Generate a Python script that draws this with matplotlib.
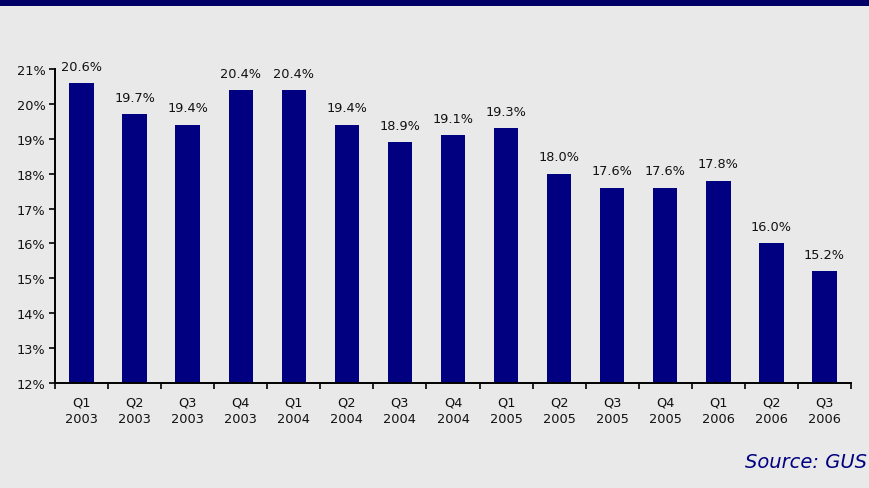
import numpy as np
import matplotlib.pyplot as plt
from matplotlib.patches import Rectangle

quarters = ["Q1", "Q2", "Q3", "Q4", "Q1", "Q2", "Q3", "Q4", "Q1", "Q2", "Q3", "Q4", "Q1", "Q2", "Q3"]
years = ["2003", "2003", "2003", "2003", "2004", "2004", "2004", "2004",
         "2005", "2005", "2005", "2005", "2006", "2006", "2006"]
values = [20.6, 19.7, 19.4, 20.4, 20.4, 19.4, 18.9, 19.1, 19.3, 18.0, 17.6, 17.6, 17.8, 16.0, 15.2]
y_ticks = [12, 13, 14, 15, 16, 17, 18, 19, 20, 21]

BG = "#e9e9e9"
NAVY = "#000080"

plt.rcParams['font.family'] = ['DejaVu Sans']

fig = plt.figure(figsize=(8.7, 4.89), dpi=100, facecolor=BG)
# bande du haut
fig.patches.append(Rectangle((0, 1 - 6.5 / 489), 1, 6.5 / 489, transform=fig.transFigure,
                             facecolor="#000066", edgecolor="none", zorder=0))

ax = fig.add_axes([55 / 870, 1 - 384 / 489, 796 / 870, 314 / 489])
ax.set_facecolor(BG)

x = np.arange(len(values))
ax.bar(x, np.array(values) - 12, bottom=12, width=0.46, color=NAVY, zorder=2)

for xi, v in zip(x, values):
    ax.annotate(f"{v:.1f}%", (xi, v), xytext=(0, 7.5), textcoords="offset points",
                ha="center", va="bottom", fontsize=9.3, color="#111111")

ax.set_xlim(-0.5, len(values) - 0.5)
ax.set_ylim(12, 21)
ax.set_yticks(y_ticks)
ax.set_yticklabels([f"{t}%" for t in y_ticks], fontsize=9.3, color="#111111")

ax.set_xticks(x)
ax.set_xticklabels([f"{q}\n{y}" for q, y in zip(quarters, years)], fontsize=9.3,
                   color="#111111", linespacing=1.35)
ax.tick_params(axis="x", which="major", length=0, pad=9)
ax.set_xticks(np.arange(len(values) + 1) - 0.5, minor=True)
ax.tick_params(axis="x", which="minor", length=4, width=1.2, direction="out", color="black")
ax.tick_params(axis="y", length=4, width=1.2, direction="out", pad=3)

for s in ["top", "right"]:
    ax.spines[s].set_visible(False)
for s in ["left", "bottom"]:
    ax.spines[s].set_linewidth(1.4)
    ax.spines[s].set_color("black")

fig.text(0.996, 0.035, "Source: GUS", ha="right", va="bottom", fontsize=14,
         style="italic", color="#000080")

fig.savefig("out.png", dpi=100, facecolor=BG)
